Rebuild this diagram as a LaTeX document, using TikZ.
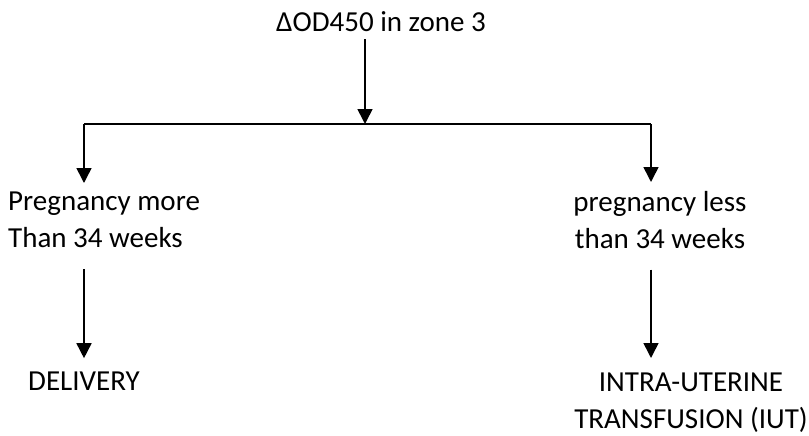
\documentclass[tikz,border=0pt]{standalone}
\usepackage{fontspec}
\setmainfont{Carlito}
\usetikzlibrary{arrows.meta}
\begin{document}
\begin{tikzpicture}[x=1pt,y=-1pt,
    txt/.style={inner sep=0pt,font=\fontsize{29}{37}\selectfont},
    flow/.style={-{Triangle[width=15pt,length=15pt]},line width=1.6pt}]
    \useasboundingbox (0,0) rectangle (809,436);
    %% Start
    \node[txt,anchor=base] (zone) at (381,32) {ΔOD450 in zone 3};
    \coordinate (split) at (365,124);
    \coordinate (lsplit) at (84,124);
    \coordinate (rsplit) at (651,124);
    %% Two cases
    \node[txt,anchor=north west,align=left] (more) at (8,192) {Pregnancy more\\Than 34 weeks};
    \node[txt,anchor=north,align=center] (less) at (660,191) {pregnancy less\\than 34 weeks};
    %% Management
    \node[txt,anchor=base west] (deliv) at (28,390) {DELIVERY};
    \node[txt,anchor=north,align=center] (iut) at (691,373) {INTRA-UTERINE\\TRANSFUSION (IUT)};
    %% Arrows
    \draw[flow,shorten <=7pt] (split |- zone.south) -- (split);
    \draw[line width=1.6pt] (lsplit) -- (rsplit);
    \draw[flow,shorten >=9pt] (lsplit) -- (lsplit |- more.north);
    \draw[flow,shorten >=9pt] (rsplit) -- (rsplit |- less.north);
    \draw[flow,shorten <=21pt,shorten >=13pt] (lsplit |- more.south) -- (lsplit |- deliv.north);
    \draw[flow,shorten <=21pt,shorten >=15pt] (rsplit |- less.south) -- (rsplit |- iut.north);
\end{tikzpicture}
\end{document}
